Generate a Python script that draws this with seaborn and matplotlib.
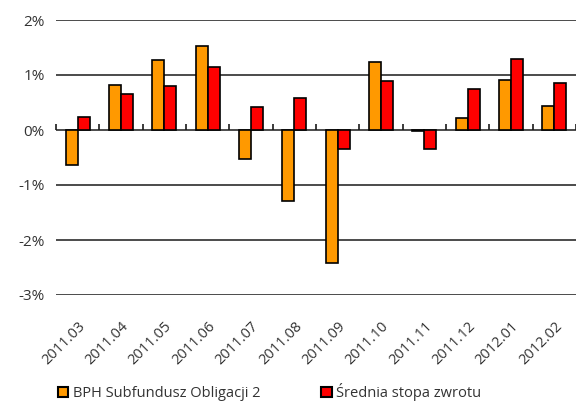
import numpy as np
import pandas as pd
import matplotlib
matplotlib.use("Agg")
import matplotlib.pyplot as plt
import seaborn as sns

# dane (w %)
months = ['2011.03', '2011.04', '2011.05', '2011.06', '2011.07', '2011.08',
          '2011.09', '2011.10', '2011.11', '2011.12', '2012.01', '2012.02']
fund = [-0.64, 0.82, 1.27, 1.53, -0.53, -1.29, -2.42, 1.24, -0.02, 0.21, 0.91, 0.44]
avg = [0.24, 0.65, 0.80, 1.15, 0.42, 0.59, -0.35, 0.89, -0.35, 0.74, 1.29, 0.85]
series = ['BPH Subfundusz Obligacji 2', 'Średnia stopa zwrotu']
colors = ['#FF9900', '#FF0000']
yticks = [-3, -2, -1, 0, 1, 2]

df = pd.DataFrame({
    'month': months * 2,
    'value': fund + avg,
    'series': [series[0]] * len(months) + [series[1]] * len(months),
})

sns.set_theme(style='white')
plt.rcParams['font.family'] = ['Open Sans', 'DejaVu Sans']

fig = plt.figure(figsize=(5.76, 4.04), dpi=100)
ax = fig.add_axes([56 / 576, 1 - 295 / 404, 1 - 56 / 576, (295 - 20) / 404])

sns.barplot(data=df, x='month', y='value', hue='series', palette=colors,
            saturation=1, width=0.56, edgecolor='black', linewidth=1.2,
            ax=ax, legend=True, zorder=3)

ax.set_ylim(-3, 2)
ax.set_xlim(-0.5, len(months) - 0.5)
ax.set_yticks(yticks)
ax.set_yticklabels([f'{v}%' for v in yticks], fontsize=11, color='#333333')
ax.tick_params(axis='y', length=0, pad=8)
for v in yticks:
    ax.axhline(v, color='#1a1a1a', lw=1.1, zorder=1)

ax.set_xlabel('')
ax.set_ylabel('')
ax.tick_params(axis='x', length=0, pad=17)
for lab in ax.get_xticklabels():
    lab.set_rotation(45)
    lab.set_ha('right')
    lab.set_rotation_mode('anchor')
    lab.set_fontsize(10.5)
    lab.set_color('#333333')
for s in ax.spines.values():
    s.set_visible(False)

# oś zerowa z kreskami między kategoriami
sec = ax.secondary_xaxis(3 / 5)
sec.set_xticks(np.arange(len(months) + 1) - 0.5)
sec.set_xticklabels([])
sec.tick_params(axis='x', direction='out', length=4, width=1.2, color='#1a1a1a')
for s in sec.spines.values():
    s.set_visible(False)

handles, labels = ax.get_legend_handles_labels()
ax.get_legend().remove()
leg = fig.legend(handles, labels, loc='lower left', bbox_to_anchor=(45 / 576, -0.025),
                 ncol=2, frameon=False, fontsize=10.5, handlelength=0.7,
                 handleheight=0.7, handletextpad=0.3, columnspacing=4.2,
                 labelcolor='#333333')
for h in leg.legend_handles:
    h.set_linewidth(1.5)

fig.savefig('out.png', dpi=100)
